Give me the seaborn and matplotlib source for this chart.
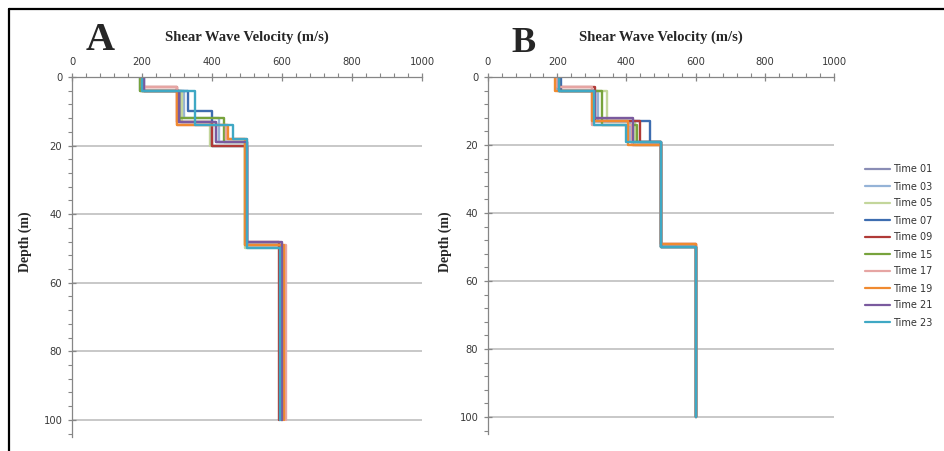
import numpy as np
import pandas as pd
import matplotlib
matplotlib.use("Agg")
import matplotlib.pyplot as plt
from matplotlib.ticker import MultipleLocator
from matplotlib.lines import Line2D
import seaborn as sns

# ---------------- data ----------------
times = ["Time 01", "Time 03", "Time 05", "Time 07", "Time 09",
         "Time 15", "Time 17", "Time 19", "Time 21", "Time 23"]
colors = ["#8A8DB5", "#95B3D7", "#C3D69B", "#3D6DB0", "#B03A37",
          "#77A33C", "#E6A5A3", "#F08A30", "#7A5A9E", "#3FA8C4"]

max_depth = 100

# Panel A: layer velocities (m/s) and layer base depths (m)
A_vel1 = [200, 195, 200, 205, 200, 195, 200, 200, 205, 200]
A_base1 = [4, 4, 4, 4, 3, 4, 3, 4, 4, 4]
A_vel2 = [310, 320, 315, 330, 300, 305, 300, 300, 305, 350]
A_base2 = [13, 12, 13, 10, 13, 12, 14, 14, 13, 14]
A_vel3 = [410, 420, 395, 400, 400, 435, 440, 445, 410, 460]
A_base3 = [19, 19, 20, 20, 20, 19, 18, 18, 19, 18]
A_vel4 = [500, 500, 495, 500, 500, 495, 500, 495, 500, 500]
A_base4 = [49, 49, 50, 49, 48, 49, 49, 49, 48, 50]
A_vel5 = [600, 595, 595, 600, 590, 600, 610, 605, 600, 595]

# Panel B
B_vel1 = [205, 200, 205, 210, 200, 205, 200, 195, 205, 205]
B_base1 = [4, 4, 4, 4, 3, 4, 3, 4, 4, 4]
B_vel2 = [310, 318, 343, 305, 310, 330, 300, 300, 310, 305]
B_base2 = [13, 13, 13, 13, 13, 14, 14, 13, 12, 14]
B_vel3 = [420, 410, 425, 468, 439, 430, 415, 405, 420, 400]
B_base3 = [20, 19, 20, 19, 19, 19, 20, 20, 19, 19]
B_vel4 = [500, 500, 500, 500, 500, 500, 500, 500, 500, 500]
B_base4 = [50, 50, 50, 50, 49, 50, 49, 49, 50, 50]
B_vel5 = [600, 600, 600, 600, 600, 600, 600, 600, 600, 600]

x_ticks = [0, 200, 400, 600, 800, 1000]
y_ticks = [0, 20, 40, 60, 80, 100]


def profile_frame(vels, bases):
    rows = []
    for i, t in enumerate(times):
        top = 0
        for k, vl in enumerate(vels):
            base = bases[k][i] if k < len(bases) else max_depth
            rows.append((t, vl[i], top))
            rows.append((t, vl[i], base))
            top = base
    return pd.DataFrame(rows, columns=["Time", "Velocity", "Depth"])


dfA = profile_frame([A_vel1, A_vel2, A_vel3, A_vel4, A_vel5],
                    [A_base1, A_base2, A_base3, A_base4])
dfB = profile_frame([B_vel1, B_vel2, B_vel3, B_vel4, B_vel5],
                    [B_base1, B_base2, B_base3, B_base4])

# ---------------- style ----------------
sns.set_style("white")
plt.rcParams["font.family"] = ["DejaVu Sans"]

W, H = 944, 451
fig = plt.figure(figsize=(W / 100, H / 100), dpi=100)


def fx(px):
    return px / W


def fy(py):
    return 1 - py / H


axA = fig.add_axes([fx(72), fy(437), fx(422) - fx(72), fy(77) - fy(437)])
axB = fig.add_axes([fx(488), fy(434), fx(834) - fx(488), fy(77) - fy(434)])

palette = dict(zip(times, colors))
sns.lineplot(data=dfA, x="Velocity", y="Depth", hue="Time", palette=palette,
             sort=False, estimator=None, lw=1.7, ax=axA, legend=False)
sns.lineplot(data=dfB, x="Velocity", y="Depth", hue="Time", palette=palette,
             sort=False, estimator=None, lw=1.7, ax=axB, legend=False)

axis_col = "#868686"
for ax in (axA, axB):
    ax.set_xlim(0, 1000)
    ax.set_ylim(105, 0)
    ax.set_xticks(x_ticks)
    ax.set_yticks(y_ticks)
    ax.xaxis.set_minor_locator(MultipleLocator(40))
    ax.yaxis.set_minor_locator(MultipleLocator(4))
    ax.xaxis.tick_top()
    ax.set_xlabel("")
    ax.set_ylabel("")
    for s in ("right", "bottom"):
        ax.spines[s].set_visible(False)
    for s in ("top", "left"):
        ax.spines[s].set_color(axis_col)
        ax.spines[s].set_linewidth(0.9)
    ax.tick_params(which="major", direction="inout", length=6, width=0.9,
                   color=axis_col, labelsize=7.2, labelcolor="#3A3A3A", pad=4)
    ax.tick_params(which="minor", direction="out", length=3, width=0.8,
                   color=axis_col)
    ax.tick_params(axis="x", which="both", top=True, bottom=False)
    ax.tick_params(axis="y", which="both", left=True, right=False)
    for yv in y_ticks[1:]:
        ax.axhline(yv, color="#BFBFBF", lw=1.2, zorder=0)
    ax.set_facecolor("white")

serif = ["Liberation Serif", "DejaVu Serif"]
for ax in (axA, axB):
    pos = ax.get_position()
    fig.text((pos.x0 + pos.x1) / 2, fy(37), "Shear Wave Velocity (m/s)",
             ha="center", va="center", fontsize=10.5, fontweight="bold",
             family=serif)
fig.text(fx(25), fy(242), "Depth (m)", rotation=90, ha="center", va="center",
         fontsize=10, fontweight="bold", family=serif)
fig.text(fx(445), fy(242), "Depth (m)", rotation=90, ha="center", va="center",
         fontsize=10, fontweight="bold", family=serif)
fig.text(fx(100), fy(41), "A", ha="center", va="center", fontsize=29,
         fontweight="bold", family=serif)
fig.text(fx(523), fy(43), "B", ha="center", va="center", fontsize=26,
         fontweight="bold", family=serif)

handles = [Line2D([0], [0], color=c, lw=1.6) for c in colors]
fig.legend(handles, times, loc="center left",
           bbox_to_anchor=(fx(865), fy(246)), bbox_transform=fig.transFigure,
           frameon=False, fontsize=7, handlelength=2.6, handletextpad=0.3,
           labelspacing=0.72, borderpad=0, borderaxespad=0,
           labelcolor="#333333")

# outer border (left and top edges)
fig.add_artist(Line2D([fx(8.5), fx(8.5)], [0, fy(8.5)], color="black", lw=1.6,
                      transform=fig.transFigure))
fig.add_artist(Line2D([fx(8.5), 1], [fy(8.5), fy(8.5)], color="black", lw=1.6,
                      transform=fig.transFigure))

fig.savefig("out.png", dpi=100, facecolor="white")
